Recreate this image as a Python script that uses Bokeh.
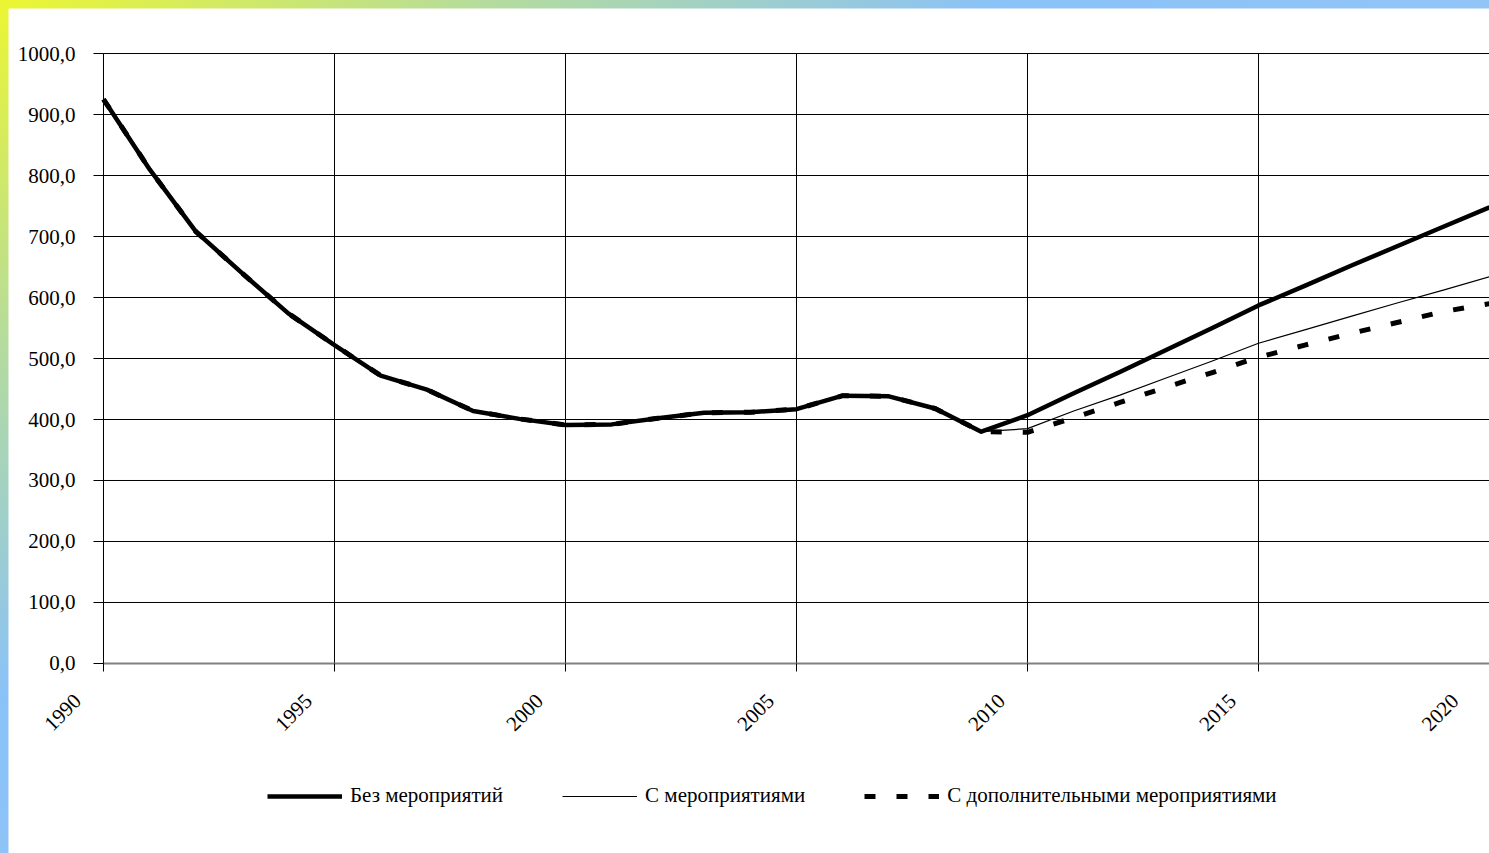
import math
from bokeh.plotting import figure
from bokeh.models import Range1d, FixedTicker, Legend, LegendItem
from bokeh.embed import file_html
from bokeh.resources import INLINE

# ---- data ----
years = [1990, 1991, 1992, 1993, 1994, 1995, 1996, 1997, 1998, 1999,
         2000, 2001, 2002, 2003, 2004, 2005, 2006, 2007, 2008, 2009,
         2010, 2011, 2012, 2013, 2014, 2015, 2016, 2017, 2018, 2019, 2020]

no_measures = [925, 810, 708, 640, 574, 522, 472, 449, 414, 401,
               391, 392, 402, 411, 412, 417, 439, 438, 418, 380,
               407, 443, 478, 514, 550, 587, 619, 652, 684, 716, 748]

with_measures = [925, 810, 708, 640, 574, 522, 472, 449, 414, 401,
                 391, 392, 402, 411, 412, 417, 439, 438, 418, 380,
                 385, 414, 440, 468, 496, 525, 547, 569, 591, 612, 634]

additional_measures = [925, 810, 708, 640, 574, 522, 472, 449, 414, 401,
                       391, 392, 402, 411, 412, 417, 439, 438, 418, 380,
                       379, 403, 428, 453, 477, 502, 522, 541, 559, 577, 590]

series_names = ["Без мероприятий", "С мероприятиями", "С дополнительными мероприятиями"]

x_ticks = [1990, 1995, 2000, 2005, 2010, 2015, 2020]
x_tick_labels = ["1990", "1995", "2000", "2005", "2010", "2015", "2020"]
y_ticks = [0, 100, 200, 300, 400, 500, 600, 700, 800, 900, 1000]
y_tick_labels = ["0,0", "100,0", "200,0", "300,0", "400,0", "500,0",
                 "600,0", "700,0", "800,0", "900,0", "1000,0"]

X_MIN, X_MAX = x_ticks[0], x_ticks[-1]
Y_MIN, Y_MAX = y_ticks[0], y_ticks[-1]

FONT = "Liberation Serif"
PAD = "\u00a0" * 7  # trailing non-breaking spaces shift rotated labels left/down

# The frame covers the whole canvas; axes are pinned inside it so that
# tick labels and the legend are never clipped.
p = figure(width=1481, height=845, output_backend="svg", toolbar_location=None,
           x_range=Range1d(1987.944, 2020), y_range=Range1d(-311.5, 1073.8),
           min_border_left=0, min_border_right=0, min_border_top=0,
           min_border_bottom=0)
p.outline_line_color = None
p.background_fill_color = "white"
p.border_fill_color = "white"
p.styles = {"box-shadow": "-2px -1px 0 #333333"}

# grid lines limited to the plotting area
p.xgrid.visible = False
p.ygrid.visible = False
vx = x_ticks[:-1]
p.segment(x0=vx, y0=[Y_MIN] * len(vx), x1=vx, y1=[Y_MAX] * len(vx),
          line_color="black", line_width=1)
hy = y_ticks[1:]
p.segment(x0=[X_MIN] * len(hy), y0=hy, x1=[X_MAX] * len(hy), y1=hy,
          line_color="black", line_width=1)

# axes
p.xaxis.fixed_location = Y_MIN
p.xaxis.bounds = (X_MIN, X_MAX)
p.xaxis.ticker = FixedTicker(ticks=x_ticks)
p.xaxis.major_label_overrides = {t: l + PAD for t, l in zip(x_ticks, x_tick_labels)}
p.xaxis.major_label_orientation = math.pi / 4
p.yaxis.fixed_location = X_MIN
p.yaxis.bounds = (Y_MIN, Y_MAX)
p.yaxis.ticker = FixedTicker(ticks=y_ticks)
p.yaxis.major_label_overrides = {t: l for t, l in zip(y_ticks, y_tick_labels)}
for ax in (p.xaxis, p.yaxis):
    ax.major_label_text_font = FONT
    ax.major_label_text_font_size = "21px"
    ax.major_label_text_color = "black"
    ax.minor_tick_line_color = None
    ax.major_tick_in = 0
    ax.major_tick_line_color = "black"
p.xaxis.axis_line_color = "#808080"
p.xaxis.axis_line_width = 2
p.xaxis.major_tick_out = 8
p.xaxis.major_label_standoff = 0
p.yaxis.axis_line_color = "black"
p.yaxis.major_tick_out = 10
p.yaxis.major_label_standoff = 18

# lines
r1 = p.line(years, no_measures, line_color="black", line_width=4.5, line_join="round")
r2 = p.line(years, with_measures, line_color="black", line_width=1.2, line_join="round")
r3 = p.line(years, additional_measures, line_color="black", line_width=5,
            line_dash="11 21", line_join="round")

legend = Legend(items=[LegendItem(label=n, renderers=[r]) for n, r in zip(series_names, [r1, r2, r3])],
                location=(259, 45), orientation="horizontal",
                glyph_width=75, glyph_height=20, label_standoff=8,
                padding=0, margin=0, spacing=59,
                border_line_color=None, background_fill_alpha=0,
                label_text_font=FONT, label_text_font_size="21px",
                label_text_color="black")
p.add_layout(legend)

html = file_html(p, INLINE)
css = ("<style>html{background:linear-gradient(145deg,#ecf631 0%,#b5dc9c 18%,"
       "#8ac2f8 37%,#a6cbf2 100%) fixed;} body{margin:8px 0 0 8px;}</style>")
html = html.replace("</head>", css + "</head>", 1)
open("out.html", "w").write(html)
